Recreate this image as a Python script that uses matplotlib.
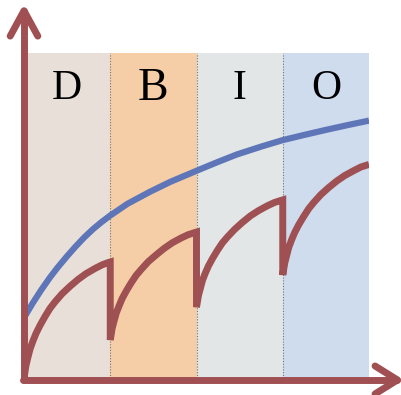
import matplotlib
matplotlib.use("Agg")
import matplotlib.pyplot as plt

# phases along the x axis
phases = ["D", "B", "I", "O"]
phase_colors = ["#E8E0D8", "#F5CEA7", "#E2E6E6", "#CEDCEE"]
phase_fontsize = [30, 33, 30, 30]

# smooth upper curve (blue)
blue_x = [0.01, 0.10, 0.20, 0.30, 0.39, 0.50, 0.60, 0.70, 0.80, 0.90, 1.00, 1.20,
          1.46, 1.70, 2.04, 2.25, 2.47, 2.75, 3.00, 3.25, 3.51, 3.75, 4.00]
blue_y = [0.19, 0.23, 0.271, 0.309, 0.34, 0.375, 0.405, 0.433, 0.458, 0.48, 0.50, 0.536,
          0.573, 0.604, 0.642, 0.665, 0.688, 0.712, 0.732, 0.748, 0.764, 0.778, 0.792]

# sawtooth curve (red), one drop at every phase boundary
red_x1 = [0.0, 0.023, 0.046, 0.07, 0.104, 0.139, 0.186, 0.243, 0.301, 0.359,
          0.441, 0.533, 0.626, 0.719, 0.823, 0.904, 0.974, 1.0]
red_y1 = [0.0, 0.039, 0.064, 0.089, 0.114, 0.137, 0.162, 0.189, 0.214, 0.234,
          0.259, 0.282, 0.303, 0.321, 0.337, 0.348, 0.355, 0.357]
red_x2 = [1.0, 1.023, 1.046, 1.07, 1.104, 1.139, 1.186, 1.243, 1.301, 1.359,
          1.441, 1.533, 1.626, 1.719, 1.823, 1.904, 1.974, 2.0]
red_y2 = [0.117, 0.154, 0.177, 0.200, 0.223, 0.245, 0.268, 0.293, 0.316, 0.334,
          0.358, 0.379, 0.399, 0.416, 0.431, 0.441, 0.447, 0.449]
red_x3 = [2.0, 2.023, 2.046, 2.07, 2.104, 2.139, 2.186, 2.243, 2.301, 2.359,
          2.441, 2.533, 2.626, 2.719, 2.823, 2.904, 2.974, 3.0]
red_y3 = [0.218, 0.254, 0.277, 0.301, 0.324, 0.345, 0.368, 0.393, 0.416, 0.434,
          0.457, 0.479, 0.499, 0.515, 0.530, 0.540, 0.546, 0.548]
red_x4 = [3.0, 3.023, 3.046, 3.07, 3.104, 3.139, 3.186, 3.243, 3.301, 3.359,
          3.441, 3.533, 3.626, 3.719, 3.823, 3.904, 3.974, 4.0]
red_y4 = [0.317, 0.354, 0.378, 0.402, 0.426, 0.448, 0.472, 0.497, 0.521, 0.540,
          0.564, 0.586, 0.606, 0.623, 0.638, 0.649, 0.655, 0.657]

red_x = red_x1 + red_x2 + red_x3 + red_x4
red_y = red_y1 + red_y2 + red_y3 + red_y4

axis_color = "#A05052"
red = "#9E5052"
blue = "#5E76B8"

fig = plt.figure(figsize=(4.01, 3.95), dpi=100)
ax = fig.add_axes([24 / 401, 17 / 395, 345 / 401, 325 / 395])
ax.set_xlim(0, 4)
ax.set_ylim(0, 1)
ax.set_axis_off()

for i, (lab, col, fs) in enumerate(zip(phases, phase_colors, phase_fontsize)):
    ax.axvspan(i, i + 1, ymin=0, ymax=1, color=col, lw=0, zorder=0)
    ax.text(i + 0.5, 0.89, lab, ha="center", va="center", fontsize=fs,
            family="Liberation Serif", color="black", zorder=3)

for b in [1, 2, 3]:
    ax.plot([b, b], [-0.01, 1.0], color="#777777", lw=0.8, ls=(0, (1, 1.5)), zorder=1, clip_on=False)

ax.plot(blue_x, blue_y, color=blue, lw=4.5, solid_capstyle="butt", zorder=4)
ax.plot(red_x, red_y, color=red, lw=5, solid_capstyle="butt", solid_joinstyle="miter", zorder=4)

# axes drawn as arrows
kw = dict(color=axis_color, lw=5, solid_capstyle="round", solid_joinstyle="round", clip_on=False, zorder=5)
ax.plot([0, 0], [-0.006, 1.13], **kw)
ax.plot([-0.16, 0, 0.16], [1.052, 1.13, 1.052], **kw)
ax.plot([-0.01, 4.33], [-0.006, -0.006], **kw)
ax.plot([4.07, 4.33, 4.07], [0.037, -0.006, -0.049], **kw)

fig.savefig("out.png", dpi=100, facecolor="white")
